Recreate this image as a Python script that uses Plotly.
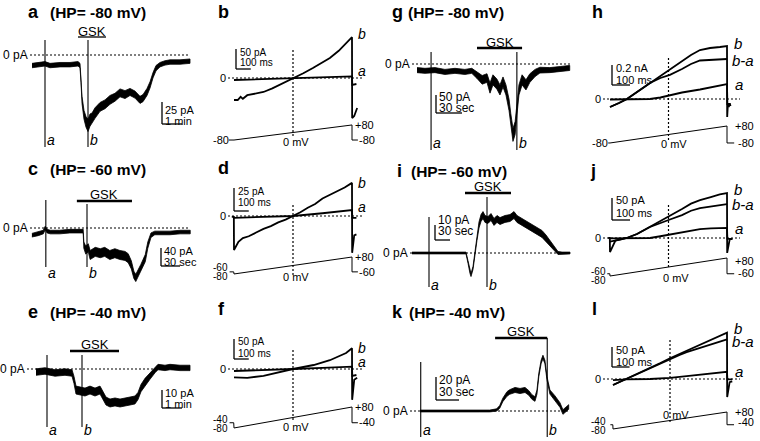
import plotly.graph_objects as go

W, H = 760, 441
SANS = "Liberation Sans, Arial, Helvetica, sans-serif"
NARROW = "Liberation Sans Narrow, Arial Narrow, Liberation Sans, sans-serif"

# ======================= DATA =======================
# ---- a : HP -80 mV, time (min) / current (pA)
A_T = [0.1,0.5,0.75,1.0,1.5,2.0,2.4,2.5,2.55,2.6,2.7,2.8,2.9,3.0,3.1,3.25,3.5,3.75,4.0,4.25,4.5,4.75,5.0,5.25,5.5,5.65,5.85,6.0,6.15,6.3,6.5,6.75,7.0,7.5,8.0]
A_I = [-12,-11,-10,-12,-11,-11,-10,-12,-28,-51,-68,-76,-80,-74,-72,-66,-59,-56,-51,-48,-43,-45,-42,-45,-51,-49,-42,-34,-23,-15,-11,-9,-8,-8,-7]
A_N = [2.5,2.5,2.5,2.5,2.5,2.5,2.5,2.5,3,4,5,6,7,7,6,6,5,5,5,4.5,4.5,4.5,4,4,4,4,4,3.5,3,3,2.5,2.5,2.5,2.5,2.5]
A_SWEEPS = [0.75, 2.9]
A_GSK = [2.4, 3.8]
A_SCALE = [1, 25]            # 1 min, 25 pA

# ---- c : HP -60 mV, time (s) / current (pA)
C_T = [3,13,21,24,27,32,47,63,79,84,85,88,92,95,103,111,118,126,134,142,150,155,160,164,167,171,175,182,186,191,197,205,221,237,253]
C_I = [-16,-13,-9,0,-7,-9,-9,-7,-7,-7,-38,-49,-44,-60,-53,-56,-53,-60,-56,-60,-62,-67,-82,-104,-111,-98,-89,-67,-38,-16,-11,-11,-11,-9,-9]
C_N = [4,4,4,4,4,4,4,4,4,4,7,9,9,10,10,10,10,10,10,10,10,10,9,8,8,8,8,8,7,5,4,4,4,4,4]
C_SWEEPS = [25, 90]
C_GSK = [74, 161]
C_SCALE = [30, 40]           # 30 s, 40 pA

# ---- e : HP -40 mV, time (min) / current (pA)
E_T = [0.3,0.75,1.25,1.75,2.1,2.2,2.3,2.5,2.75,3.0,3.25,3.5,3.65,3.8,4.0,4.25,4.5,4.75,5.0,5.25,5.4,5.55,5.75,6.0,6.25,6.4,6.75,7.0,7.5,8.0]
E_I = [-1.7,-1.1,-2.2,-1.7,-2.2,-6.1,-11.7,-12.2,-12.8,-11.7,-12.8,-11.7,-15,-17.8,-18.9,-18.3,-18.9,-18.3,-17.8,-17.2,-15,-10.6,-7.2,-3.9,-0.6,1.1,0.6,1.1,0.6,0.6]
E_N = [1.8,1.8,1.8,1.8,1.8,2,2.2,2.2,2.2,2.2,2.2,2.2,2.2,2.2,2.2,2.2,2.2,2.2,2.2,2.2,2,2,2,1.8,1.5,1.5,1.5,1.5,1.5,1.5]
E_SWEEPS = [0.85, 2.6]
E_GSK = [2.0, 4.45]
E_SCALE = [1, 10]            # 1 min, 10 pA

# ---- g : HP -80 mV, time (s) / current (pA)
G_T = [5.8,15,26.5,38,49.6,61,69,75,81,86.5,90,93.4,98,101.5,105,108.4,112,114,116.5,119,121,123.4,127,131.5,136,142,147.6,159,171,182]
G_I = [-17,-19,-17,-22,-19,-22,-19,-31,-44,-39,-67,-44,-56,-72,-50,-72,-114,-156,-197,-178,-128,-72,-44,-58,-39,-25,-17,-17,-14,-11]
G_N = [7,7,7,7,7,7,7,9,12,12,14,14,14,14,14,14,16,18,18,18,16,14,14,14,12,10,8,7,7,7]
G_SWEEPS = [22, 121]
G_GSK = [75, 127]
G_SCALE = [30, 50]           # 30 s, 50 pA

# ---- i : HP -60 mV, time (s) / current (pA)
I_T = [4,20,40,60,80,100,112,116,120,122,126,130,134,138,142,146,150,156,162,168,174,180,190,200,208,214,224,234,244,254,264,272,280,288,296,304,320]
I_I = [0,0,0,0,0,0,0,-6,-12.7,-14.7,-10,-1.3,10,18.7,23.3,25.3,22.7,22,24,20.7,22.7,21.3,22.7,23.3,25.3,22.7,20.7,18.7,16.7,14.7,12.7,10,6.7,3.3,0,0,0]
I_N = [0.6,0.6,0.6,0.6,0.6,0.6,0.6,0.8,1,1,1,1.2,1.5,2,2.3,2.3,2.3,2.3,2.3,2.3,2.3,2.3,2.3,2.3,2.3,2.3,2.3,2.3,2.3,2.3,2.3,2,1.8,1.5,1,0.6,0.6]
I_SWEEPS = [38, 154]
I_GSK = [110, 202]
I_SCALE = [30, 10]           # 30 s, 10 pA

# ---- k : HP -40 mV, time (s) / current (pA)
K_T = [13,26,39,52,65,78,91,104,113,117,121,126.5,130,137,143.5,150,155,159,163,165.6,168,171,173.4,176,178.6,182.5,189,195.6,199.5,203,207]
K_I = [0,0,0,0,0,0,0,0,0.9,3.5,9.6,14.8,16.5,18.3,17.4,18.3,15.7,12.2,10.4,16.5,31.3,42.6,47,42.6,28.7,16.5,11.3,5.2,-0.9,0.9,3.5]
K_N = [0.8,0.8,0.8,0.8,0.8,0.8,0.8,0.8,1,1.2,1.5,2,2,2.2,2.2,2.2,2,2,2,1.8,1.5,1.5,1.5,1.5,1.5,1.8,2,2,2,2,2]
K_SWEEPS = [14, 179]
K_GSK = [111, 179]
K_SCALE = [30, 20]           # 30 s, 20 pA

# ---- ramp I-V panels: time in ramp (ms), current (pA), voltage (mV)
# b
B_TB = [0,25,45,60,90,140,200,260,310,360,400,470,535,600,650,710,765,800,801,815,835]
B_IB = [-55,-55,-47,-52,-43,-39,-35,-26,-17,-9,0,12,25,38,50,68,88,102,-100,-95,-75]
B_TA = [0,200,400,600,800,802,830]
B_IA = [-5,-3,0,2,4,-17,-15]
B_VT = [-35,0,800,800,840]
B_V = [-80,-80,80,-80,-80]
B_SCALE = [100, 50]
# d
D_TB = [-15,-1,0,30,60,100,150,200,250,300,350,400,450,500,550,600,650,700,750,800,801,815,830]
D_IB = [-1,-1,-37,-28,-24,-22,-18,-14,-11,-7,-4,0,4,9,13,19,23,27,31,36,-40,-21,-20]
D_TA = [0,200,400,600,800,802,830]
D_IA = [-2,-1,0,3,6.5,-2,-2]
D_VT = [-30,-2,0,800,800,840]
D_V = [-60,-60,-80,80,-60,-60]
D_SCALE = [100, 25]
# f
F_TB = [0,90,200,310,400,540,650,760,800,801,815,835]
F_IB = [-21,-22,-17,-7,0,10,22,40,52,-77,-27,-22]
F_TA = [0,200,400,600,800,802,830]
F_IA = [-5,-3,0,3,6,-17,-15]
F_VT = [-30,-2,0,800,800,840]
F_V = [-40,-40,-80,80,-40,-40]
F_SCALE = [100, 50]
# h
H_TB = [0,20,50,94,150,222,280,333,400,450,500,556,611,650,651,655,660,665,670]
H_IB = [-80,-65,-40,0,70,160,230,290,375,440,490,510,520,530,-180,-50,-80,-45,-70]
H_TBA = [0,20,50,94,150,222,280,333,400,450,500,556,611,650]
H_IBA = [-80,-65,-40,0,70,160,210,242,300,350,385,392,395,400]
H_TA = [0,94,222,280,333,400,500,556,611,650,652,670]
H_IA = [-5,-3,0,15,40,65,95,115,135,150,-50,-50]
H_VT = [-10,0,650,650,690]
H_V = [-80,-80,80,-80,-80]
H_SCALE = [100, 200]
# j
J_TB = [-10,-1,0,30,60,93,150,222,280,333,400,450,500,560,610,650,651,665,680]
J_IB = [0,0,-32,-6,-3,0,9,25,38,50,66,78,86,93,99,102,-34,-3,-2]
J_TBA = [0,30,60,93,150,222,280,333,400,450,500,560,610,650]
J_IBA = [-8,-6,-3,0,9,25,33,42,52,62,68,72,75,77]
J_TA = [0,93,222,280,333,400,500,560,610,650,652,680]
J_IA = [-1,0,0,4,8,14,20,22,23,23,-2,-2]
J_VT = [-15,-1,0,650,650,690]
J_V = [-60,-60,-80,80,-60,-60]
J_SCALE = [100, 50]
# l
L_TB = [0,30,78,150,211,270,325,380,420,470,513,560,610,650,651,665,680]
L_IB = [-15,-9,0,14,28,40,52,63,72,82,90,100,109,116,-45,-8,-6]
L_TBA = [0,30,78,150,211,270,325,380,420,470,513,560,610,650]
L_IBA = [-15,-9,0,14,28,40,51,60,67,74,81,88,94,99]
L_TA = [0,78,211,270,325,420,513,610,650,652,680]
L_IA = [-3,-1,0,1,3,7,12,16,18,-1,-1]
L_VT = [-15,-1,0,650,650,690]
L_V = [-40,-40,-80,80,-40,-40]
L_SCALE = [100, 50]

# ======================= FIGURE =======================
layout = dict(width=W, height=H, margin=dict(l=0, r=0, t=0, b=0),
              paper_bgcolor="white", plot_bgcolor="rgba(0,0,0,0)", showlegend=False)
traces, shapes, annotations = [], [], []
DOT = "2px,2px"


class Ax:
    count = 0

    def __init__(self, x0, x1, y0, y1, xo, sx, yo, sy):
        Ax.count += 1
        s = "" if Ax.count == 1 else str(Ax.count)
        self.x, self.y = "x" + s, "y" + s
        self.xo, self.sx, self.yo, self.sy = xo, sx, yo, sy
        layout["xaxis" + s] = dict(domain=[x0 / W, x1 / W], range=[(x0 - xo) / sx, (x1 - xo) / sx],
                                   visible=False, fixedrange=True, anchor=self.y)
        layout["yaxis" + s] = dict(domain=[1 - y1 / H, 1 - y0 / H], range=[(yo - y1) / sy, (yo - y0) / sy],
                                   visible=False, fixedrange=True, anchor=self.x)

    def dx(self, px):
        return (px - self.xo) / self.sx

    def dy(self, py):
        return (self.yo - py) / self.sy


def curve(ax, x, y, w=1.8):
    traces.append(go.Scatter(x=x, y=y, xaxis=ax.x, yaxis=ax.y, mode="lines",
                             line=dict(color="black", width=w), hoverinfo="skip"))


def band(ax, x, y, n):
    up = [a + b for a, b in zip(y, n)]
    lo = [a - b for a, b in zip(y, n)]
    traces.append(go.Scatter(x=list(x) + list(x)[::-1], y=up + lo[::-1], xaxis=ax.x, yaxis=ax.y,
                             mode="lines", fill="toself", fillcolor="black",
                             line=dict(color="black", width=0.8), hoverinfo="skip"))


def seg(ax, x0, y0, x1, y1, w=1.2, dash=None):
    shapes.append(dict(type="line", xref=ax.x, yref=ax.y, x0=x0, y0=y0, x1=x1, y1=y1,
                       line=dict(color="black", width=w, dash=dash)))


def vline(ax, x, py0, py1, w=1.0, dash=None, color="black"):
    shapes.append(dict(type="line", xref=ax.x, yref="paper", x0=x, x1=x, y0=1 - py0 / H, y1=1 - py1 / H,
                       line=dict(color=color, width=w, dash=dash)))


def hbar(ax, xa, xb, py, w=2.5):
    shapes.append(dict(type="line", xref=ax.x, yref="paper", x0=xa, x1=xb, y0=1 - py / H, y1=1 - py / H,
                       line=dict(color="black", width=w)))


def txt(px, py, s, size=11, xa="left", family=SANS):
    annotations.append(dict(x=px / W, y=1 - py / H, xref="paper", yref="paper", text=s, showarrow=False,
                            xanchor=xa, yanchor="middle", borderpad=0,
                            font=dict(size=size, family=family, color="black")))


def zero_line(ax, px0, px1):
    seg(ax, ax.dx(px0), 0, ax.dx(px1), 0, w=1.2, dash=DOT)


def scalebar(ax, px, py, dxv, dyv, w=1.3):
    x0, y0 = ax.dx(px), ax.dy(py)
    seg(ax, x0, y0, x0, y0 + dyv, w=w)
    seg(ax, x0, y0, x0 + dxv, y0, w=w)


def title(lx, hx, py, letter, hp):
    txt(lx, py, "<b>%s</b>" % letter, size=18)
    if hp:
        txt(hx, py, "<b>(HP= %s mV)</b>" % hp, size=15.5)


# ---------- time-course panels ----------
def time_panel(box, org, T, I, N, sweeps, gsk, scale, zero_px, mark_py, lab_py, gsk_py, gsk_txt_py,
               gsk_w, sb_px, sb_lab, sb_size=11):
    ax = Ax(*box, *org)
    zero_line(ax, *zero_px)
    band(ax, T, I, N)
    for s, (p0, p1) in zip(sweeps, mark_py):
        vline(ax, s, p0, p1, w=1.1)
    hbar(ax, gsk[0], gsk[1], gsk_py, w=gsk_w)
    gx = (ax.xo + ax.sx * (gsk[0] + gsk[1]) / 2)
    txt(gx, gsk_txt_py, "GSK", size=13, xa="center")
    txt(zero_px[0] - 1, ax.yo, "0 pA", size=12, xa="right")
    for s, name in zip(sweeps, ["a", "b"]):
        txt(ax.xo + ax.sx * s + 1, lab_py, "<i>%s</i>" % name, size=14)
    scalebar(ax, sb_px[0], sb_px[1], scale[0], scale[1])
    txt(sb_px[0] + 2, sb_lab[0], sb_lab[2], size=sb_size)
    txt(sb_px[0] + 2, sb_lab[1], sb_lab[3], size=sb_size)
    return ax


time_panel((26, 194, 20, 152), (30, 20, 55, 0.88), A_T, A_I, A_N, A_SWEEPS, A_GSK, A_SCALE, (30, 190),
           [(40, 147), (40, 147)], 140, 37, 31, 1.3, (162, 124), (110, 121, "25 pA", "1 min"))
title(27, 49, 12, "a", "-80")

time_panel((26, 194, 180, 292), (30, 19 / 30, 228, 0.45), C_T, C_I, C_N, C_SWEEPS, C_GSK, C_SCALE, (30, 190),
           [(200, 267), (204, 267)], 273, 201, 194, 2.5, (161, 266), (251, 262, "40 pA", "30 sec"))
title(27, 49, 169, "c", "-60")

time_panel((24, 194, 330, 441), (30, 20, 369, 1.8), E_T, E_I, E_N, E_SWEEPS, E_GSK, E_SCALE, (27, 190),
           [(355, 427), (355, 427)], 430, 351, 344, 2.5, (162, 408), (393, 404, "10 pA", "1 min"))
title(27, 49, 312, "e", "-40")

time_panel((408, 574, 25, 155), (412, 26 / 30, 64, 0.36), G_T, G_I, G_N, G_SWEEPS, G_GSK, G_SCALE, (412, 570),
           [(52, 150), (52, 150)], 143, 48, 42, 2.5, (436, 113), (97, 108, "50 pA", "30 sec"), 12)
title(391, 407, 12, "g", "-80")

time_panel((408, 574, 180, 292), (410, 0.5, 253, 1.5), I_T, I_I, I_N, I_SWEEPS, I_GSK, I_SCALE, (410, 570),
           [(217, 287), (197, 287)], 285, 193, 187, 2.5, (435, 240), (220, 231, "10 pA", "30 sec"), 12)
title(396, 410, 171, "i", "-60")

time_panel((408, 574, 320, 441), (410, 23 / 30, 411, 1.15), K_T, K_I, K_N, K_SWEEPS, K_GSK, K_SCALE, (410, 570),
           [(362, 437), (338, 437)], 430, 338, 331, 2.5, (436, 400), (380, 392, "20 pA", "30 sec"), 12)
title(391, 408, 312, "k", "-40")


# ---------- ramp I-V panels ----------
def iv_panel(box, org, vbox, vorg, curves_, VT, V, scale, zero_px, vdot_t, vdot_py, sb_px, sb_lab, labels,
             vlabels, right_labels, sb_size=10, sb_family=NARROW):
    ax = Ax(*box, *org)
    axv = Ax(*vbox, *vorg)
    zero_line(ax, *zero_px)
    vline(ax, vdot_t, vdot_py[0], vdot_py[1], w=1.2, dash=DOT)
    for x, y in curves_:
        curve(ax, x, y, w=1.8)
    curve(axv, VT, V, w=1.0)
    scalebar(ax, sb_px[0], sb_px[1], scale[0], scale[1])
    txt(sb_px[0] + 3, sb_lab[0], sb_lab[2], size=sb_size, family=sb_family)
    txt(sb_px[0] + 3, sb_lab[1], sb_lab[3], size=sb_size, family=sb_family)
    txt(zero_px[0] - 1, ax.yo, "0", size=11, xa="right")
    for (px, py, s, size) in labels:
        txt(px, py, s, size=size, xa="center" if s == "0 mV" else "right")
    for (px, py, s) in vlabels:
        txt(px, py, s, size=11)
    for (px, py, s, size) in right_labels:
        txt(px, py, "<i>%s</i>" % s, size=size)
    return ax


iv_panel((212, 374, 25, 128), (234, 0.1475, 78, 0.4), (212, 374, 110, 150), (234, 0.1475, 132.5, 0.094),
         [(B_TB, B_IB), (B_TA, B_IA)], B_VT, B_V, B_SCALE, (228, 362), 400, (50, 137),
         (236, 69), (52, 63, "50 pA", "100 ms"),
         [(230, 140, "-80", 11), (296, 142, "0 mV", 11)],
         [(354, 125, "+80"), (358, 140, "-80")],
         [(357, 34, "b", 14), (357, 71, "a", 14)])
title(217, None, 12, "b", None)

iv_panel((212, 374, 165, 262), (234, 0.1475, 216, 0.92), (212, 374, 250, 290), (234, 0.1475, 265.5, 0.106),
         [(D_TB, D_IB), (D_TA, D_IA)], D_VT, D_V, D_SCALE, (228, 362), 400, (205, 275),
         (234, 211), (191, 202, "25 pA", "100 ms"),
         [(229, 267, "-60", 10), (229, 276, "-80", 10), (296, 277, "0 mV", 11)],
         [(354, 257, "+80"), (358, 272, "-60")],
         [(357, 183, "b", 14), (357, 207, "a", 14)])
title(217, None, 168, "d", None)

iv_panel((212, 374, 315, 412), (234, 0.1475, 369, 0.4), (212, 374, 400, 441), (234, 0.1475, 417.5, 0.131),
         [(F_TB, F_IB), (F_TA, F_IA)], F_VT, F_V, F_SCALE, (228, 362), 400, (350, 420),
         (234, 359), (341, 353, "50 pA", "100 ms"),
         [(229, 419, "-40", 10), (229, 428, "-80", 10), (296, 427, "0 mV", 11)],
         [(354, 407, "+80"), (358, 422, "-40")],
         [(357, 348, "b", 14), (357, 362, "a", 14)])
title(217, None, 309, "f", None)

iv_panel((592, 760, 25, 128), (610, 0.18, 99, 0.1), (592, 760, 110, 150), (610, 0.18, 134.5, 0.106),
         [(H_TB, H_IB), (H_TBA, H_IBA), (H_TA, H_IA)], H_VT, H_V, H_SCALE, (603, 740), 325, (58, 140),
         (612, 85), (68, 80, "0.2 nA", "100 ms"),
         [(609, 143, "-80", 11), (674, 144, "0 mV", 11)],
         [(734, 126, "+80"), (737, 143, "-80")],
         [(733, 44, "b", 15), (731, 61, "b-a", 15), (734, 84, "a", 15)], 11, SANS)
title(591, None, 12, "h", None)

iv_panel((592, 760, 165, 262), (610, 0.18, 238, 0.44), (592, 760, 250, 290), (610, 0.18, 267, 0.1125),
         [(J_TB, J_IB), (J_TBA, J_IBA), (J_TA, J_IA)], J_VT, J_V, J_SCALE, (603, 740), 325, (205, 268),
         (612, 220), (200, 213, "50 pA", "100 ms"),
         [(607, 271, "-60", 10), (607, 280, "-80", 10), (676, 278, "0 mV", 11)],
         [(734, 261, "+80"), (737, 273, "-60")],
         [(733, 190, "b", 15), (731, 204, "b-a", 15), (734, 228, "a", 15)], 11, SANS)
title(589, None, 171, "j", None)

iv_panel((592, 760, 315, 412), (613, 114 / 650, 379, 0.4), (592, 760, 400, 441), (613, 114 / 650, 420.5, 0.106),
         [(L_TB, L_IB), (L_TBA, L_IBA), (L_TA, L_IA)], L_VT, L_V, L_SCALE, (603, 740), 325, (340, 423),
         (612, 367), (350, 362, "50 pA", "100 ms"),
         [(607, 421, "-40", 10), (607, 430, "-80", 10), (676, 415, "0 mV", 11)],
         [(734, 412, "+80"), (737, 422, "-40")],
         [(733, 328, "b", 15), (731, 341, "b-a", 15), (734, 371, "a", 15)], 11, SANS)
title(591, None, 309, "l", None)

layout["shapes"] = shapes
layout["annotations"] = annotations
fig = go.Figure(data=traces, layout=layout)
fig.write_html("out.html", config={"displayModeBar": False},
               post_script="document.body.style.margin='0px';document.body.style.padding='0px';")
